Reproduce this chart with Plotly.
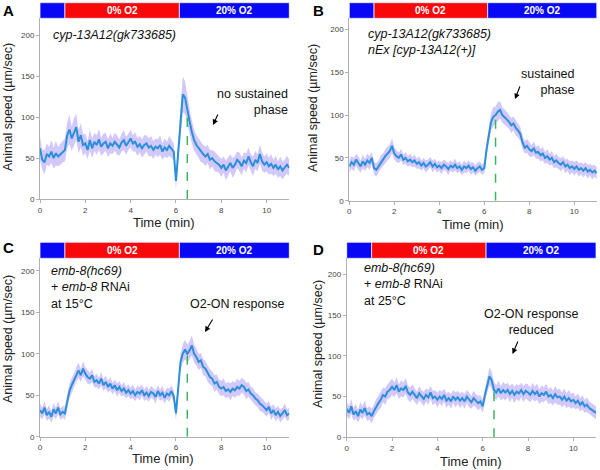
import plotly.graph_objects as go

W, H = 600, 470
FONT = "Arial, Liberation Sans, sans-serif"

# ---------------- data (0.1-min sampling, 0 .. 11 min) ----------------
TIME = [round(k * 0.1, 1) for k in range(111)]

speed_A = [62, 48, 45, 55, 52, 58, 50, 56, 52, 55,
           58, 60, 78, 85, 74, 82, 88, 70, 78, 66,
           68, 60, 72, 62, 70, 66, 73, 64, 68, 70,
           62, 68, 65, 70, 66, 63, 69, 72, 65, 70,
           74, 68, 70, 64, 67, 62, 66, 68, 63, 65,
           60, 64, 62, 66, 58, 63, 60, 65, 61, 58,
           22, 60, 100, 128, 124, 108, 95, 82, 72, 66,
           62, 58, 55, 52, 55, 48, 50, 46, 44, 42,
           38, 42, 35, 40, 44, 38, 42, 48, 45, 40,
           47, 44, 52, 45, 40, 48, 44, 55, 46, 42,
           45, 40, 43, 38, 42, 36, 40, 35, 38, 42,
           38]
sem_A = [14, 12, 15, 13, 12, 14, 13, 15, 12, 13,
         13, 14, 16, 18, 15, 17, 16, 14, 15, 13,
         12, 11, 13, 12, 11, 12, 13, 11, 12, 11,
         11, 12, 10, 11, 12, 10, 11, 12, 11, 10,
         11, 10, 12, 11, 10, 11, 12, 10, 11, 12,
         11, 10, 11, 12, 10, 11, 10, 12, 11, 10,
         10, 14, 20, 22, 20, 18, 15, 14, 13, 12,
         12, 13, 11, 12, 11, 12, 10, 12, 11, 10,
         11, 10, 12, 11, 10, 12, 11, 10, 12, 11,
         10, 12, 11, 10, 12, 11, 10, 12, 11, 10,
         11, 10, 12, 10, 11, 10, 12, 11, 10, 11,
         10]

speed_B = [40, 45, 42, 48, 44, 40, 46, 42, 47, 44,
           50, 38, 36, 40, 45, 48, 52, 55, 58, 64,
           55, 52, 50, 54, 48, 50, 46, 48, 45, 47,
           43, 45, 41, 44, 40, 42, 45, 40, 43, 39,
           41, 38, 42, 40, 37, 41, 39, 42, 38, 40,
           36, 40, 38, 41, 37, 39, 35, 38, 40, 36,
           38, 60, 78, 92, 98, 100, 104, 106, 100, 98,
           95, 92, 88, 90, 85, 82, 78, 68, 62, 64,
           60, 58, 61, 56, 57, 53, 55, 50, 52, 48,
           50, 45, 47, 44, 42, 45, 40, 42, 38, 40,
           37, 40, 36, 38, 35, 38, 34, 36, 33, 35,
           32]
sem_B = [8, 7, 8, 7, 8, 7, 8, 7, 8, 8,
         7, 7, 8, 7, 8, 7, 8, 8, 8, 9,
         7, 7, 6, 7, 6, 7, 6, 7, 6, 7,
         6, 7, 6, 6, 7, 6, 6, 7, 6, 6,
         6, 7, 6, 6, 7, 6, 6, 7, 6, 6,
         6, 7, 6, 6, 7, 6, 6, 7, 6, 6,
         6, 8, 9, 10, 11, 10, 11, 10, 9, 9,
         9, 8, 9, 8, 9, 8, 8, 8, 7, 8,
         8, 7, 8, 7, 8, 7, 8, 7, 8, 7,
         8, 7, 8, 7, 8, 7, 8, 7, 8, 7,
         8, 7, 8, 7, 8, 7, 8, 7, 8, 7,
         7]

speed_C = [32, 28, 35, 26, 30, 24, 33, 28, 35, 27,
           30, 28, 42, 55, 62, 68, 75, 80, 74, 82,
           76, 72, 70, 74, 66, 68, 64, 70, 62, 66,
           60, 64, 58, 62, 56, 60, 55, 58, 53, 56,
           52, 55, 50, 54, 52, 56, 50, 53, 49, 54,
           52, 48, 55, 50, 53, 47, 52, 50, 55, 49,
           28, 60, 90, 100, 105, 100, 104, 110, 100, 96,
           90, 92, 84, 82, 76, 72, 70, 64, 66, 60,
           58, 60, 55, 57, 54, 58, 56, 60, 58, 62,
           60, 55, 57, 52, 50, 46, 44, 40, 38, 35,
           32, 36, 28, 32, 26, 30, 25, 28, 32, 26,
           28]
sem_C = [8, 7, 8, 7, 8, 7, 8, 7, 8, 7,
         7, 8, 8, 9, 9, 8, 9, 9, 8, 9,
         8, 8, 7, 8, 7, 8, 7, 8, 7, 8,
         7, 8, 7, 7, 8, 7, 7, 8, 7, 7,
         7, 8, 7, 7, 8, 7, 7, 8, 7, 7,
         7, 8, 7, 7, 8, 7, 7, 8, 7, 7,
         8, 9, 10, 11, 12, 11, 11, 12, 11, 10,
         10, 9, 10, 9, 10, 9, 9, 10, 9, 9,
         9, 10, 9, 9, 10, 9, 9, 10, 9, 9,
         9, 10, 9, 8, 9, 8, 8, 9, 8, 8,
         8, 7, 8, 7, 8, 7, 8, 7, 8, 7,
         7]

speed_D = [35, 30, 38, 28, 32, 26, 34, 30, 36, 28,
           30, 26, 32, 38, 42, 46, 52, 50, 56, 58,
           62, 58, 64, 56, 60, 58, 63, 55, 52, 56,
           52, 48, 54, 50, 47, 52, 49, 55, 48, 50,
           46, 50, 47, 52, 45, 48, 44, 50, 46, 49,
           45, 48, 44, 50, 46, 43, 48, 45, 42, 44,
           38, 52, 65, 75, 70, 58, 55, 60, 54, 58,
           55, 58, 53, 57, 52, 56, 54, 58, 53, 57,
           55, 52, 57, 53, 56, 50, 54, 52, 56, 50,
           52, 48, 53, 49, 50, 46, 50, 45, 48, 44,
           46, 42, 45, 40, 43, 38, 40, 36, 34, 32,
           30]
sem_D = [9, 8, 9, 8, 9, 8, 9, 8, 9, 8,
         8, 9, 8, 9, 9, 10, 9, 10, 9, 10,
         10, 9, 10, 9, 10, 9, 10, 9, 9, 9,
         9, 8, 9, 8, 9, 8, 9, 8, 9, 8,
         9, 8, 9, 8, 9, 8, 9, 8, 9, 8,
         9, 8, 9, 8, 9, 8, 9, 8, 9, 8,
         8, 9, 10, 11, 10, 10, 9, 10, 9, 10,
         10, 9, 10, 9, 10, 9, 10, 9, 10, 9,
         10, 9, 10, 9, 10, 9, 10, 9, 10, 9,
         10, 9, 10, 9, 10, 9, 10, 9, 10, 9,
         9, 8, 9, 8, 9, 8, 9, 8, 8, 8,
         8]

STIM_EDGES = [0, 1.1, 6.15, 11]          # air / 0% O2 / 20% O2 (min)
STIM_LABELS = ["", "0% O2", "20% O2"]
O2_ON_MARK = 6.5                            # green dashed marker (min)
Y_TICKS = [0, 50, 100, 150, 200]
X_TICKS = [0, 2, 4, 6, 8, 10]

# ---------------- layout geometry (pixels) ----------------
def px(x):
    return x / W

def py(y):
    return 1 - y / H

panels = [
    dict(key="A", speed=speed_A, sem=sem_A, xl=40, xr=289.3, yb=199, yt=18.3, bar_top=2.7, ymax=221,
         letter=(8, 11), ytitle=(8, 107), xtitle=(164, 222.5)),
    dict(key="B", speed=speed_B, sem=sem_B, xl=349.3, xr=596.8, yb=200.7, yt=18.3, bar_top=2.7, ymax=213,
         letter=(318, 10), ytitle=(313, 108), xtitle=(473, 224)),
    dict(key="C", speed=speed_C, sem=sem_C, xl=40, xr=289.3, yb=436.7, yt=258.3, bar_top=242.3, ymax=215,
         letter=(8, 247), ytitle=(8, 339), xtitle=(163, 458.5)),
    dict(key="D", speed=speed_D, sem=sem_D, xl=346.7, xr=596, yb=437.3, yt=258.3, bar_top=242.3, ymax=219.6,
         letter=(318, 249), ytitle=(318, 344), xtitle=(471, 461)),
]

LINE_COLOR = "#2b8fdc"
BAND_COLOR = "rgba(175,155,245,0.55)"
GREEN = "#3cb35f"
BLUE_BAR = "#0808f5"
RED_BAR = "#f80808"

fig = go.Figure()
shapes = []
annotations = []
layout_axes = {}

for i, p in enumerate(panels):
    n = "" if i == 0 else str(i + 1)
    xa, ya = "x" + n, "y" + n
    upper = [m + s for m, s in zip(p["speed"], p["sem"])]
    lower = [m - s for m, s in zip(p["speed"], p["sem"])]
    fig.add_trace(go.Scatter(x=TIME + TIME[::-1], y=upper + lower[::-1], fill="toself",
                             fillcolor=BAND_COLOR, line=dict(width=0), mode="lines",
                             hoverinfo="skip", showlegend=False, xaxis=xa, yaxis=ya))
    fig.add_trace(go.Scatter(x=TIME, y=p["speed"], mode="lines",
                             line=dict(color=LINE_COLOR, width=2), showlegend=False,
                             xaxis=xa, yaxis=ya))
    mark_val = p["speed"][TIME.index(O2_ON_MARK)]
    fig.add_trace(go.Scatter(x=[O2_ON_MARK, O2_ON_MARK], y=[0, mark_val], mode="lines",
                             line=dict(color=GREEN, width=1.5, dash="dash"), showlegend=False,
                             xaxis=xa, yaxis=ya))

    axis_common = dict(showgrid=False, zeroline=False, showline=True, linecolor="#b0b0b0",
                       linewidth=1, ticks="outside", ticklen=3, tickcolor="#b0b0b0",
                       automargin=False,
                       tickfont=dict(family=FONT, size=8, color="#444"))
    layout_axes["xaxis" + n] = dict(axis_common, domain=[px(p["xl"]), px(p["xr"])], range=[0, 11],
                                    tickvals=X_TICKS, anchor=ya)
    layout_axes["yaxis" + n] = dict(axis_common, domain=[py(p["yb"]), py(p["yt"])],
                                    range=[0, p["ymax"]], tickvals=Y_TICKS, anchor=xa)

    # stimulus bar
    for k in range(3):
        shapes.append(dict(type="rect", xref=xa, yref="paper",
                           x0=STIM_EDGES[k], x1=STIM_EDGES[k + 1],
                           y0=py(p["yt"]), y1=py(p["bar_top"]),
                           fillcolor=RED_BAR if k == 1 else BLUE_BAR,
                           line=dict(color="#e8e8ff", width=0.8), layer="above"))
        if STIM_LABELS[k]:
            annotations.append(dict(xref=xa, yref="paper",
                                    x=(STIM_EDGES[k] + STIM_EDGES[k + 1]) / 2,
                                    y=py((p["yt"] + p["bar_top"]) / 2),
                                    text="<b>%s</b>" % STIM_LABELS[k], showarrow=False,
                                    font=dict(family=FONT, size=10, color="white"),
                                    xanchor="center", yanchor="middle"))
    # letter
    annotations.append(dict(xref="paper", yref="paper", x=px(p["letter"][0]), y=py(p["letter"][1]),
                            text="<b>%s</b>" % p["key"], showarrow=False,
                            font=dict(family=FONT, size=15, color="black"),
                            xanchor="center", yanchor="middle"))
    # axis titles
    annotations.append(dict(xref="paper", yref="paper", x=px(p["ytitle"][0]), y=py(p["ytitle"][1]),
                            text="Animal speed (µm/sec)", showarrow=False, textangle=-90,
                            font=dict(family=FONT, size=12.5, color="#222"),
                            xanchor="center", yanchor="middle"))
    annotations.append(dict(xref="paper", yref="paper", x=px(p["xtitle"][0]), y=py(p["xtitle"][1]),
                            text="Time (min)", showarrow=False,
                            font=dict(family=FONT, size=13, color="#222"),
                            xanchor="center", yanchor="middle"))

TXT = dict(family=FONT, size=12.5, color="#111")

def note(x, y, text, xanchor="left", align="left"):
    annotations.append(dict(xref="paper", yref="paper", x=px(x), y=py(y), text=text,
                            showarrow=False, font=TXT, xanchor=xanchor, yanchor="middle",
                            align=align))

def arrow(hx, hy, tx, ty):
    annotations.append(dict(xref="paper", yref="paper", x=px(hx), y=py(hy), text="",
                            showarrow=True, ax=tx - hx, ay=ty - hy, arrowhead=2, arrowsize=1,
                            arrowwidth=1.1, arrowcolor="black"))

note(51, 35, "<i>cyp-13A12(gk733685)</i>")
note(290, 102, "no sustained<br>phase", xanchor="right", align="right")
arrow(213, 125, 218.5, 113)

note(366, 42, "<i>cyp-13A12(gk733685)</i><br><i>nEx [cyp-13A12(+)]</i>")
note(577, 82, "sustained<br>phase", xanchor="right", align="right")
arrow(515, 99, 520.5, 85)

note(49, 287, "<i>emb-8(hc69)</i><br>+ <i>emb-8</i> RNAi<br>at 15°C")
note(237, 304, "O2-ON response", xanchor="center", align="center")
arrow(205, 332, 213.5, 318)

note(362, 284, "<i>emb-8(hc69)</i><br>+ <i>emb-8</i> RNAi<br>at 25°C")
note(531, 322, "O2-ON response<br>reduced", xanchor="center", align="center")
arrow(512.5, 354, 518.5, 340)

fig.update_layout(width=W, height=H, margin=dict(l=0, r=0, t=0, b=0, autoexpand=False),
                  paper_bgcolor="white", plot_bgcolor="white",
                  shapes=shapes, annotations=annotations, showlegend=False,
                  font=dict(family=FONT), **layout_axes)

# the page body has a default 8px margin; remove it so the figure fills the window
fig.write_html("out.html", config={"displayModeBar": False},
               post_script="document.body.style.margin='0';")
